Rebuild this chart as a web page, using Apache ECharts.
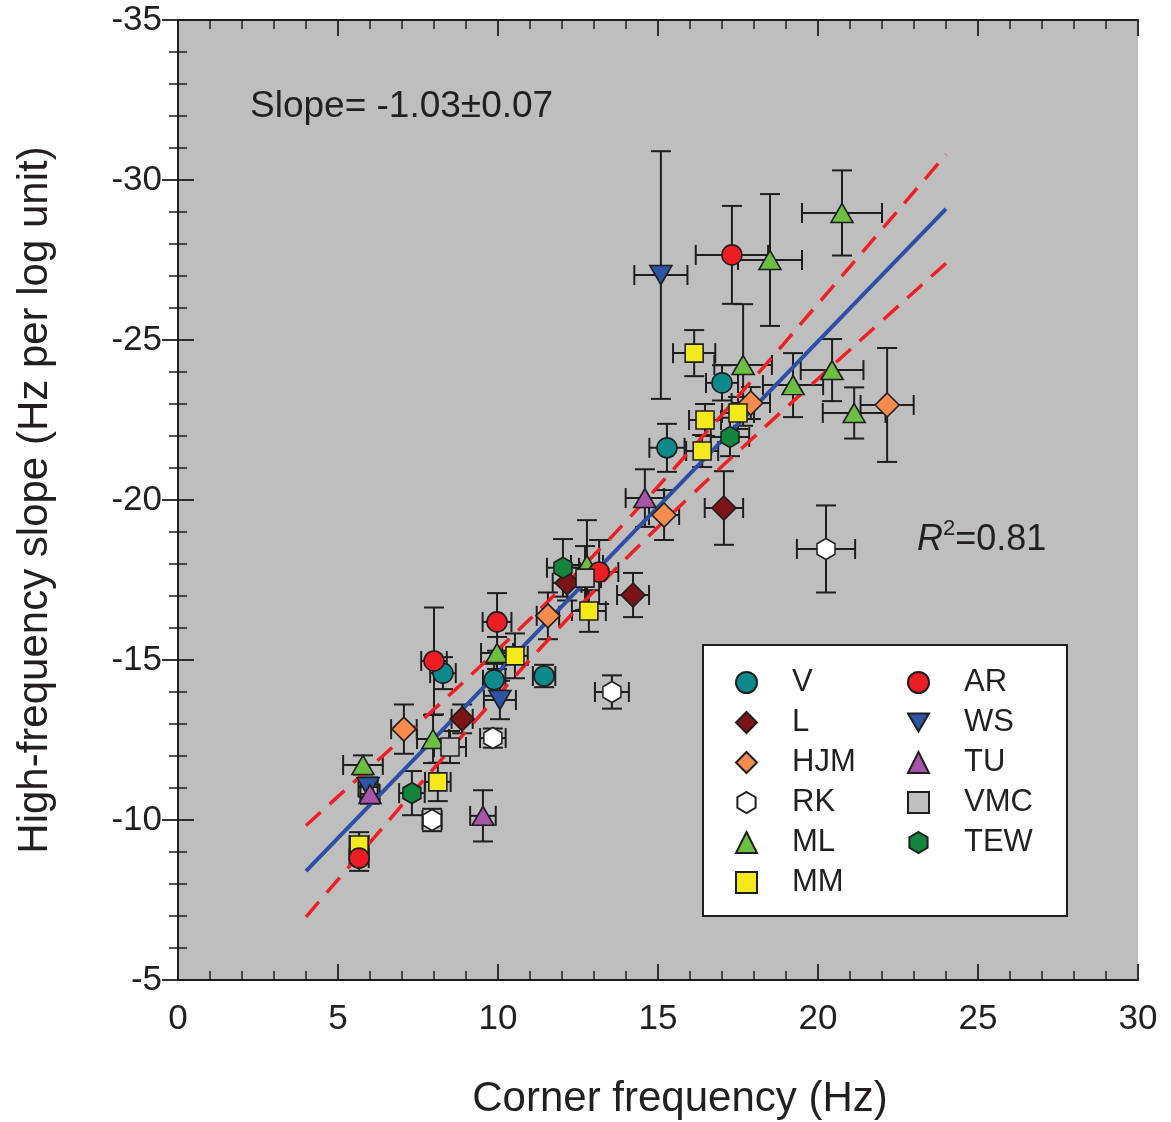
<!DOCTYPE html>
<html>
<head>
<meta charset="utf-8">
<script src="https://cdn.jsdelivr.net/npm/echarts@6/dist/echarts.min.js"></script>
<style>
html,body{margin:0;padding:0;background:#fff;}
#chart{width:1171px;height:1122px;}
</style>
</head>
<body>
<div id="chart"></div>
<script>
// Each point: [cornerFrequency, slope, xError, yError]
const V   = [[8.28,-14.59,0.4,0.5],[9.88,-14.38,0.35,0.5],[11.44,-14.5,0.35,0.35],[15.28,-21.63,0.55,0.75],[17.0,-23.66,0.5,0.55]];
const L   = [[8.88,-13.16,0.33,0.45],[12.16,-17.41,0.45,0.55],[14.22,-17.03,0.5,0.69],[17.06,-19.75,0.6,1.15]];
const HJM = [[7.06,-12.84,0.4,0.77],[11.56,-16.38,0.35,0.73],[15.19,-19.53,0.47,0.78],[17.9,-23.03,0.6,0.5],[22.16,-22.97,0.83,1.78]];
const RK  = [[7.94,-10.0,0.3,0.35],[9.84,-12.56,0.4,0.3],[13.56,-14.0,0.53,0.52],[20.25,-18.47,0.91,1.36]];
const ML  = [[5.78,-11.72,0.62,0.3],[7.97,-12.53,0.5,0.75],[9.97,-15.22,0.5,0.5],[12.78,-17.97,0.5,1.4],[17.66,-24.22,0.9,1.9],[19.22,-23.59,0.94,1.0],[20.44,-24.06,0.98,0.97],[21.13,-22.72,0.98,0.8],[18.5,-27.5,1.0,2.06],[20.75,-28.97,1.25,1.33]];
const MM  = [[5.66,-9.22,0.3,0.4],[8.12,-11.19,0.4,0.6],[10.53,-15.13,0.4,0.7],[12.84,-16.53,0.53,0.65],[16.13,-24.59,0.66,0.72],[16.47,-22.5,0.5,0.5],[16.38,-21.53,0.5,0.5],[17.5,-22.72,0.5,0.5]];
const AR  = [[5.66,-8.81,0.3,0.4],[8.0,-14.97,0.4,1.67],[9.97,-16.19,0.45,0.9],[13.16,-17.75,0.6,1.0],[17.31,-27.66,1.13,1.53]];
const WS  = [[5.94,-11.03,0.3,0.3],[10.06,-13.75,0.5,0.6],[15.09,-27.03,0.83,3.87]];
const TU  = [[6.0,-10.81,0.3,0.3],[9.53,-10.13,0.4,0.8],[14.59,-20.06,0.6,0.9]];
const VMC = [[8.5,-12.28,0.5,0.5],[12.72,-17.56,0.5,1.0]];
const TEW = [[7.31,-10.84,0.4,0.69],[12.03,-17.88,0.5,0.9],[17.25,-21.97,0.6,0.6]];

// Regression line and confidence band
const fitX     = [4, 24];
const fitY     = [-8.4, -29.1];
const bandX    = [4, 6, 8, 10, 12, 13, 14, 16, 18, 20, 22, 24];
const bandUp   = [-9.83, -11.64, -13.46, -15.33, -17.26, -18.28, -19.33, -21.54, -23.81, -26.13, -28.46, -30.80];
const bandLow  = [-6.97, -9.30, -11.62, -13.90, -16.10, -17.15, -18.17, -20.11, -21.97, -23.79, -25.60, -27.40];

const xTicks = [0, 5, 10, 15, 20, 25, 30];
const yTicks = [-35, -30, -25, -20, -15, -10, -5];

const FONT = 'Liberation Sans, Arial, Helvetica, sans-serif';
const TXT = '#231f20';
const HEX = 'path://M0,-1 L0.866,-0.5 L0.866,0.5 L0,1 L-0.866,0.5 L-0.866,-0.5 Z';
const DOWN_TRI = 'path://M-1,-0.866 L1,-0.866 L0,0.866 Z';

const groups = [
  {name:'V',   data:V,   symbol:'circle',   size:20, color:'#0f8a8c'},
  {name:'L',   data:L,   symbol:'diamond',  size:24, color:'#7a1416'},
  {name:'HJM', data:HJM, symbol:'diamond',  size:24, color:'#f58b4c'},
  {name:'RK',  data:RK,  symbol:HEX,        size:[18,21], color:'#ffffff'},
  {name:'ML',  data:ML,  symbol:'triangle', size:[22,19], color:'#6dbf44'},
  {name:'MM',  data:MM,  symbol:'rect',     size:18, color:'#f4ea1b'},
  {name:'AR',  data:AR,  symbol:'circle',   size:20, color:'#ee1d23'},
  {name:'WS',  data:WS,  symbol:DOWN_TRI,   size:[22,19], color:'#2d55a6'},
  {name:'TU',  data:TU,  symbol:'triangle', size:[22,19], color:'#a855a8'},
  {name:'VMC', data:VMC, symbol:'rect',     size:18, color:'#c0c0c0'},
  {name:'TEW', data:TEW, symbol:HEX,        size:[18,21], color:'#14853d'}
];

function errRender(params, api) {
  const x = api.value(0), y = api.value(1), ex = api.value(2), ey = api.value(3);
  const l = api.coord([x - ex, y]), r = api.coord([x + ex, y]);
  const t = api.coord([x, y - ey]), b = api.coord([x, y + ey]);
  const cap = 10;
  const style = {stroke:'#1e1e1e', lineWidth:2};
  const ln = (x1,y1,x2,y2) => ({type:'line', shape:{x1,y1,x2,y2}, style});
  return {type:'group', children:[
    ln(l[0], l[1], r[0], r[1]),
    ln(l[0], l[1]-cap, l[0], l[1]+cap),
    ln(r[0], r[1]-cap, r[0], r[1]+cap),
    ln(t[0], t[1], b[0], b[1]),
    ln(t[0]-cap, t[1], t[0]+cap, t[1]),
    ln(b[0]-cap, b[1], b[0]+cap, b[1])
  ]};
}

const series = [];
groups.forEach(g => {
  series.push({
    name: g.name + ' error', type:'custom', renderItem: errRender,
    data: g.data, encode:{x:0, y:1}, z:1, silent:true
  });
});
series.push({
  name:'fit', type:'line', data: fitX.map((x,i)=>[x, fitY[i]]),
  symbol:'none', lineStyle:{color:'#2f4fa6', width:4}, z:3, silent:true
});
series.push({
  name:'upper', type:'line', smooth:true, data: bandX.map((x,i)=>[x, bandUp[i]]),
  symbol:'none', lineStyle:{color:'#ee2025', width:3.5, type:[20,12]}, z:3, silent:true
});
series.push({
  name:'lower', type:'line', smooth:true, data: bandX.map((x,i)=>[x, bandLow[i]]),
  symbol:'none', lineStyle:{color:'#ee2025', width:3.5, type:[20,12]}, z:3, silent:true
});
groups.forEach(g => {
  series.push({
    name: g.name, type:'scatter', data: g.data.map(d => [d[0], d[1]]),
    symbol: g.symbol, symbolSize: g.size,
    itemStyle:{color:g.color, borderColor:'#1e1e1e', borderWidth:1.6, opacity:1},
    z:5
  });
});

const axisLine = {show:true, lineStyle:{color:'#1e1e1e', width:2}};
const tickIn = {show:true, inside:true, length:16, lineStyle:{color:'#1e1e1e', width:1.8}};
const minorTick = {show:true, splitNumber:5, length:9, lineStyle:{color:'#1e1e1e', width:1.5}};

const legendCommon = {
  orient:'vertical', itemWidth:21, itemHeight:21, itemGap:9, z:60,
  textStyle:{fontFamily:FONT, fontSize:31, color:TXT, padding:[0,0,0,30]},
  selectedMode:false
};

const option = {
  animation:false,
  backgroundColor:'#ffffff',
  grid:{left:178, top:20, width:960, height:960, show:true, backgroundColor:'#bebebe', borderWidth:0,
        containLabel:false, outerBoundsMode:'none'},
  xAxis:[{
    type:'value', min:xTicks[0], max:xTicks[xTicks.length-1], interval:5,
    axisLine, axisTick:tickIn, minorTick, splitLine:{show:false},
    axisLabel:{fontFamily:FONT, fontSize:35, color:TXT, margin:22},
    name:'Corner frequency (Hz)', nameLocation:'middle', nameGap:98,
    nameTextStyle:{fontFamily:FONT, fontSize:42, color:TXT, padding:[0,0,0,44]}
  },{
    type:'value', position:'top', min:xTicks[0], max:xTicks[xTicks.length-1], interval:5,
    axisLine, axisTick:tickIn, minorTick, splitLine:{show:false}, axisLabel:{show:false}
  }],
  yAxis:[{
    type:'value', inverse:true, min:yTicks[0], max:yTicks[yTicks.length-1], interval:5,
    axisLine, axisTick:tickIn, minorTick, splitLine:{show:false},
    axisLabel:{fontFamily:FONT, fontSize:35, color:TXT, margin:16},
    name:'High-frequency slope (Hz per log unit)', nameLocation:'middle', nameGap:122,
    nameTextStyle:{fontFamily:FONT, fontSize:42, color:TXT}
  },{
    type:'value', position:'right', inverse:true, min:yTicks[0], max:yTicks[yTicks.length-1], interval:5,
    axisLine, axisTick:tickIn, minorTick, splitLine:{show:false}, axisLabel:{show:false}
  }],
  legend:[
    Object.assign({}, legendCommon, {left:730, top:662, data:['V','L','HJM','RK','ML','MM']}),
    Object.assign({}, legendCommon, {left:902, top:662, data:['AR','WS','TU','VMC','TEW']})
  ],
  graphic:[
    {type:'rect', z:50, shape:{x:703, y:645, width:364, height:271},
     style:{fill:'#ffffff', stroke:'#1e1e1e', lineWidth:2}},
    {type:'text', z:50, x:250, y:107,
     style:{text:'Slope= -1.03±0.07', fontFamily:FONT, fontSize:37, fill:TXT, verticalAlign:'middle', align:'left'}},
    {type:'text', z:50, x:917, y:540,
     style:{text:'{i|R}{s|2}{n|=0.81}', verticalAlign:'middle', align:'left',
       rich:{
         i:{fontFamily:FONT, fontSize:36, fontStyle:'italic', fill:TXT, lineHeight:44},
         s:{fontFamily:FONT, fontSize:22, fill:TXT, verticalAlign:'top', lineHeight:22},
         n:{fontFamily:FONT, fontSize:36, fill:TXT, lineHeight:44}
       }}}
  ],
  series
};

const chart = echarts.init(document.getElementById('chart'), null, {renderer:'canvas'});
chart.setOption(option);
</script>
</body>
</html>
